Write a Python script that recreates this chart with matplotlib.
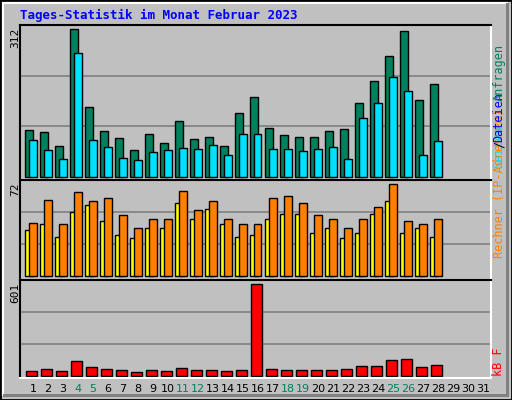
import matplotlib
matplotlib.use("Agg")
import matplotlib.pyplot as plt
from matplotlib.patches import Rectangle

# ==== Data ====
days = list(range(1, 32))
hits = [99, 94, 66, 312, 147, 98, 83, 56, 90, 71, 117, 81, 85, 66,
        134, 168, 104, 88, 85, 85, 98, 102, 157, 202, 255, 308, 162, 196]
pages = [77, 56, 37, 261, 77, 64, 41, 35, 52, 56, 62, 58, 68, 47,
         90, 90, 60, 58, 54, 58, 64, 37, 124, 157, 210, 181, 47, 75]
visits = [36, 41, 31, 50, 56, 43, 32, 30, 38, 38, 57, 45, 53, 41,
          31, 32, 45, 49, 49, 34, 38, 30, 34, 49, 59, 34, 38, 31]
sites = [42, 60, 41, 66, 59, 61, 48, 38, 45, 45, 67, 52, 59, 45,
         41, 41, 61, 63, 57, 48, 45, 38, 45, 54, 72, 43, 41, 45]
kbytes = [31, 44, 31, 97, 57, 44, 37, 24, 37, 31, 50, 37, 37, 31,
          37, 601, 44, 37, 37, 37, 37, 44, 64, 64, 103, 110, 57, 70]
weekend = [4, 5, 11, 12, 18, 19, 25, 26]

W, H = 512, 400
BG = "#c0c0c0"
GREEN = "#00805c"
CYAN = "#00e0ff"
BLUE = "#0000ff"
YELLOW = "#ffff00"
ORANGE = "#ff8000"
RED = "#ff0000"
MONO = "DejaVu Sans Mono"

fig = plt.figure(figsize=(W / 100, H / 100), dpi=100, facecolor=BG)

# bevel border
fig.patches.append(Rectangle((0, 0), 1, 1, transform=fig.transFigure, fill=False,
                             edgecolor="black", lw=2))
fig.patches.append(Rectangle((3 / W, 5 / H), (W - 8) / W, (H - 8) / H, transform=fig.transFigure,
                             fill=False, edgecolor="white", lw=1.5))
fig.patches.append(Rectangle((3 / W, 3 / H), (W - 6) / W, 3 / H, transform=fig.transFigure,
                             facecolor="#808080", lw=0))
fig.patches.append(Rectangle(((W - 6) / W, 3 / H), 3 / W, (H - 6) / H, transform=fig.transFigure,
                             facecolor="#808080", lw=0))


def panel(top, bottom, base, vmax_px, vmax):
    # pixel box -> axes; base = baseline pixel row, vmax_px = row of the max bar
    ax = fig.add_axes([20 / W, 1 - bottom / H, 471 / W, (bottom - top) / H])
    ax.set_facecolor(BG)
    scale = vmax / (base - vmax_px)
    ylo = -(bottom - base) * scale
    yhi = (base - top) * scale
    ax.set_ylim(ylo, yhi)
    ax.set_xlim(0, 31.4)
    for g in (yhi / 3, 2 * yhi / 3):
        ax.axhline(g, color="#808080", lw=1.2, zorder=0)
    ax.set_xticks([])
    ax.set_yticks([])
    for s in ("top", "left"):
        ax.spines[s].set_color("black")
    for s in ("bottom", "right"):
        ax.spines[s].set_color("white")
    for s in ax.spines.values():
        s.set_linewidth(1.5)
    return ax


x = [d - 1 for d in days[:len(hits)]]

ax1 = panel(25, 180, 177, 29, 312)
ax1.bar([i + 0.36 for i in x], hits, width=0.48, align="edge", color=GREEN, edgecolor="black", lw=1)
ax1.bar([i + 0.62 for i in x], pages, width=0.48, align="edge", color=CYAN, edgecolor="black", lw=1)

ax2 = panel(180, 280, 276.3, 184.3, 72)
ax2.bar([i + 0.36 for i in x], visits, width=0.48, align="edge", color=YELLOW, edgecolor="black", lw=1)
ax2.bar([i + 0.62 for i in x], sites, width=0.48, align="edge", color=ORANGE, edgecolor="black", lw=1)

ax3 = panel(280, 378, 375.7, 284.3, 601)
ax3.bar([i + 0.4 for i in x], kbytes, width=0.7, align="edge", color=RED, edgecolor="black", lw=1)

# title
fig.text(20 / W, 1 - 15 / H, "Tages-Statistik im Monat Februar 2023", color=BLUE,
         family=MONO, weight="bold", fontsize=9, va="center", ha="left")

# max labels on the left
for lbl, y0 in (("312", 28), ("72", 182), ("601", 283)):
    fig.text(15 / W, 1 - y0 / H, lbl, rotation=90, family=MONO, fontsize=8,
             ha="center", va="top", color="black")

# right side legend (overlapping as in webalizer)
def rlabel(txt, ybottom, color):
    fig.text(499 / W, 1 - ybottom / H, txt, rotation=90, family=MONO, fontsize=8.5,
             ha="center", va="bottom", color=color)

rlabel("Rechner (IP-Adressen)", 258, ORANGE)
rlabel("Seiten", 168, CYAN)
rlabel("/", 148, "black")
rlabel("Dateien", 142, BLUE)
rlabel("Anfragen", 101, GREEN)
rlabel("kB F", 376, RED)

# day labels
for d in days:
    col = GREEN if d in weekend else "black"
    fig.text((20 + (d - 1 + 0.87) * 15) / W, 1 - 389 / H, str(d), color=col,
             fontsize=8, ha="center", va="center", family="DejaVu Sans")

fig.savefig("out.png", dpi=100, facecolor=BG)
